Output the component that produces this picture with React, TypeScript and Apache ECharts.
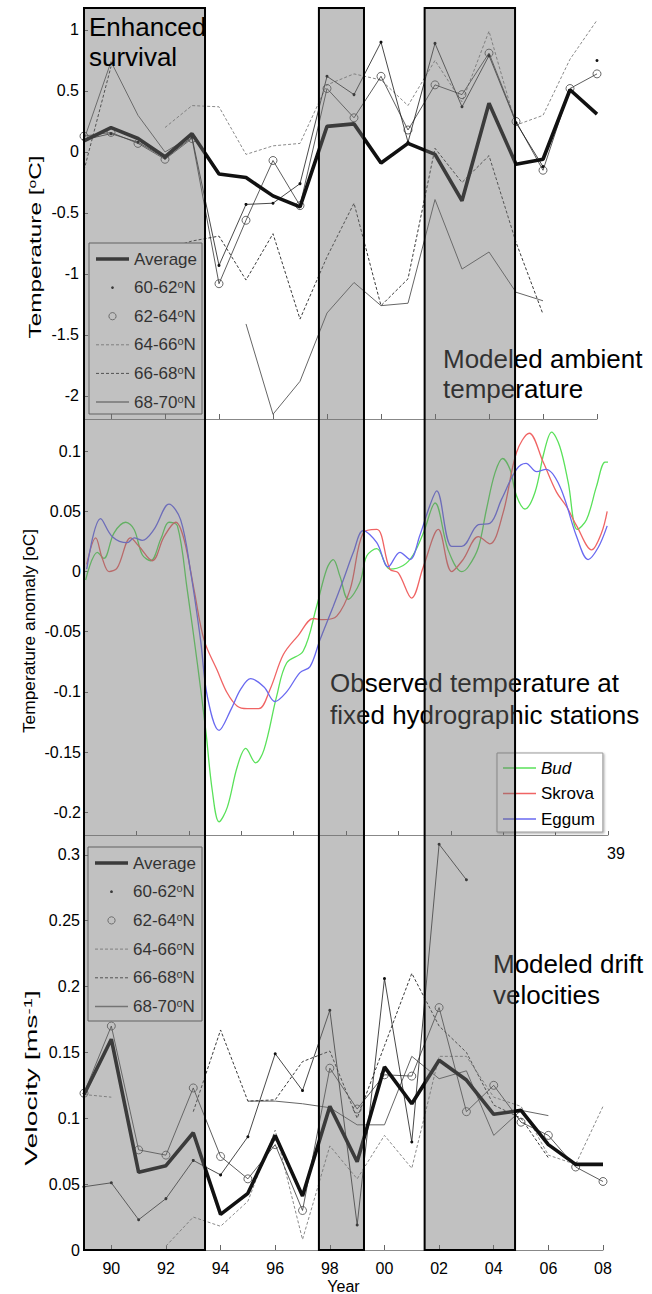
import React, { useEffect, useRef } from "react";
import * as echarts from "echarts";

const FONT = "'Liberation Sans', Arial, Helvetica, sans-serif";

// ---------------- data ----------------
const years = [1989, 1990, 1991, 1992, 1993, 1994, 1995, 1996, 1997, 1998, 1999, 2000, 2001, 2002, 2003, 2004, 2005, 2006, 2007, 2008];
const bandNames = ["Average", "60-62°N", "62-64°N", "64-66°N", "66-68°N", "68-70°N"];

// Modeled ambient temperature (°C)
const tempAverage = [0.09, 0.2, 0.11, -0.04, 0.15, -0.18, -0.21, -0.36, -0.45, 0.21, 0.23, -0.09, 0.07, -0.02, -0.4, 0.4, -0.1, -0.06, 0.51, 0.31];
const temp6062 = [0.1, 0.15, 0.08, -0.05, 0.12, -0.93, -0.43, -0.42, -0.26, 0.62, 0.47, 0.9, 0.08, 0.89, 0.37, 0.79, 0.24, -0.12, null, 0.75];
const temp6264 = [0.13, 0.16, 0.07, -0.06, 0.11, -1.08, -0.56, -0.07, -0.44, 0.52, 0.28, 0.62, 0.18, 0.55, 0.47, 0.81, 0.25, -0.15, 0.52, 0.64];
const temp6466 = [null, null, null, 0.2, 0.38, 0.37, -0.02, 0.05, 0.07, 0.55, 0.64, 0.59, 0.38, 0.75, 0.41, 0.99, 0.22, 0.3, 0.76, 1.08];
const temp6668 = [-0.15, 0.7, null, -0.8, -0.73, -0.69, -1.05, -0.67, -1.37, -0.86, -0.42, -1.26, -1.04, 0.03, -0.25, -0.03, -0.74, -1.33, null, null];
const temp6870 = [0.1, 0.74, 0.3, 0.0, 0.13, null, -1.41, -2.15, -1.88, -1.32, -1.07, -1.26, -1.24, -0.39, -0.96, -0.82, -1.15, -1.22, null, null];

// Modeled drift velocities (m/s)
const velAverage = [0.118, 0.16, 0.059, 0.064, 0.089, 0.027, 0.043, 0.087, 0.041, 0.109, 0.067, 0.139, 0.111, 0.144, 0.129, 0.103, 0.106, 0.08, 0.065, 0.065];
const vel6062 = [0.048, 0.051, 0.023, 0.039, 0.068, 0.057, 0.086, 0.149, 0.121, 0.182, 0.019, 0.206, 0.082, 0.308, 0.281, null, null, null, null, null];
const vel6264 = [0.119, 0.17, 0.076, 0.072, 0.123, 0.071, 0.054, 0.08, 0.03, 0.138, 0.107, 0.133, 0.132, 0.184, 0.105, 0.125, 0.097, 0.087, 0.063, 0.052];
const vel6466 = [0.118, 0.116, null, 0.003, 0.025, 0.018, 0.037, 0.091, 0.008, 0.079, 0.054, 0.087, 0.062, 0.147, 0.147, 0.116, 0.109, 0.072, 0.065, 0.109];
const vel6668 = [null, null, null, null, 0.105, 0.167, 0.113, 0.114, 0.143, 0.151, 0.1, 0.155, 0.21, 0.17, 0.15, 0.11, 0.1, 0.07, null, null];
const vel6870 = [null, null, null, null, null, null, 0.113, 0.113, 0.111, 0.108, 0.095, 0.095, 0.147, 0.13, 0.136, 0.087, 0.106, 0.102, null, null];

// Observed temperature anomaly at fixed stations [year, °C]
const bud = [[1989.06, -0.007], [1989.49, 0.016], [1989.73, 0.011], [1990.1, 0.032], [1990.53, 0.041], [1990.84, 0.035], [1991.14, 0.014], [1991.45, 0.009], [1991.82, 0.027], [1992.12, 0.041], [1992.43, 0.038], [1992.79, -0.015], [1993.16, -0.076], [1993.47, -0.132], [1993.71, -0.182], [1993.96, -0.208], [1994.26, -0.196], [1994.63, -0.162], [1994.94, -0.147], [1995.3, -0.159], [1995.61, -0.148], [1996.07, -0.104], [1996.44, -0.076], [1997.05, -0.066], [1997.54, -0.029], [1997.91, 0.002], [1998.15, 0.01], [1998.4, -0.004], [1998.7, -0.023], [1999.13, -0.009], [1999.38, 0.013], [1999.75, 0.019], [2000.23, 0.002], [2000.72, 0.005], [2001.09, 0.014], [2001.46, 0.032], [2001.89, 0.057], [2002.37, 0.018], [2002.87, 0.0], [2003.11, 0.004], [2003.48, 0.02], [2003.78, 0.052], [2004.09, 0.082], [2004.37, 0.094], [2004.64, 0.085], [2004.88, 0.063], [2005.19, 0.052], [2005.56, 0.066], [2005.89, 0.099], [2006.17, 0.116], [2006.47, 0.104], [2006.78, 0.074], [2007.11, 0.035], [2007.45, 0.043], [2007.82, 0.071], [2008.13, 0.091], [2008.24, 0.091]];
const skrova = [[1989.1, 0.006], [1989.43, 0.028], [1989.67, 0.011], [1989.92, 0.0], [1990.22, 0.003], [1990.71, 0.028], [1991.02, 0.021], [1991.51, 0.009], [1991.94, 0.029], [1992.37, 0.041], [1992.67, 0.027], [1993.04, -0.015], [1993.41, -0.057], [1993.89, -0.082], [1994.26, -0.101], [1994.63, -0.112], [1994.99, -0.114], [1995.42, -0.114], [1995.83, -0.098], [1996.32, -0.069], [1996.87, -0.053], [1997.42, -0.039], [1997.78, -0.04], [1998.28, -0.037], [1998.77, -0.015], [1999.25, 0.032], [1999.75, 0.035], [2000.23, 0.002], [2000.54, -0.001], [2001.03, -0.022], [2001.46, 0.004], [2002.01, 0.035], [2002.5, 0.0], [2002.92, 0.01], [2003.48, 0.029], [2003.9, 0.023], [2004.39, 0.049], [2004.88, 0.099], [2005.35, 0.115], [2005.86, 0.091], [2006.35, 0.066], [2006.72, 0.054], [2007.09, 0.038], [2007.64, 0.018], [2008.0, 0.032], [2008.21, 0.05]];
const eggum = [[1989.1, 0.002], [1989.61, 0.044], [1990.04, 0.029], [1990.59, 0.024], [1990.84, 0.028], [1991.14, 0.026], [1991.57, 0.035], [1992.12, 0.056], [1992.55, 0.043], [1992.92, -0.001], [1993.28, -0.057], [1993.53, -0.104], [1993.96, -0.132], [1994.39, -0.115], [1994.75, -0.098], [1995.12, -0.089], [1995.61, -0.096], [1996.01, -0.108], [1996.44, -0.1], [1996.93, -0.084], [1997.3, -0.079], [1997.66, -0.057], [1998.15, -0.029], [1998.52, -0.007], [1998.89, 0.016], [1999.25, 0.034], [1999.75, 0.024], [2000.17, 0.004], [2000.6, 0.016], [2000.97, 0.01], [2001.33, 0.03], [2001.7, 0.055], [2001.95, 0.067], [2002.5, 0.021], [2002.87, 0.021], [2003.48, 0.039], [2003.9, 0.04], [2004.33, 0.06], [2004.88, 0.085], [2005.23, 0.09], [2005.62, 0.083], [2005.96, 0.085], [2006.47, 0.071], [2007.09, 0.029], [2007.51, 0.01], [2007.88, 0.02], [2008.21, 0.038]];

// Enhanced-survival periods (shaded)
const shadeStart = [1989, 1997.6, 2001.47];
const shadeEnd = [1993.43, 1999.25, 2004.78];

const yearTickLabel = (v: number) => String(v % 100).padStart(2, "0");

// ---------------- styles ----------------
const bandStyle: any[] = [
  { line: { color: "#111", width: 3.6 }, symbol: "none", symbolSize: 0, item: { color: "#111" } },
  { line: { color: "#1a1a1a", width: 0.8 }, symbol: "circle", symbolSize: 3, item: { color: "#111" } },
  { line: { color: "#333", width: 0.8 }, symbol: "circle", symbolSize: 8, item: { color: "rgba(0,0,0,0)", borderColor: "#444", borderWidth: 0.8 } },
  { line: { color: "#8a8a8a", width: 1, type: [3, 2] }, symbol: "none", symbolSize: 0, item: { color: "#8a8a8a" } },
  { line: { color: "#3a3a3a", width: 1, type: [3, 2] }, symbol: "none", symbolSize: 0, item: { color: "#3a3a3a" } },
  { line: { color: "#666", width: 1 }, symbol: "none", symbolSize: 0, item: { color: "#666" } },
];

const bandSeries = (sets: (number | null)[][], xi: number, yi: number) =>
  sets.map((vals, k) => {
    const st = bandStyle[k];
    return {
      type: "line",
      name: bandNames[k],
      xAxisIndex: xi,
      yAxisIndex: yi,
      data: years.map((y, i) => [y, vals[i]]),
      symbol: st.symbol,
      symbolSize: st.symbolSize,
      showSymbol: st.symbol !== "none",
      lineStyle: st.line,
      itemStyle: st.item,
      connectNulls: false,
      silent: true,
      z: k === 0 ? 4 : 3,
    };
  });

const bandLegend = (left: number, top: number, width: number, height: number, step: number) => {
  const children: any[] = [
    { type: "rect", z: 5, shape: { x: 0, y: 0, width, height }, style: { fill: "#fff", stroke: "#555", lineWidth: 1 } },
  ];
  bandNames.forEach((name, k) => {
    const cy = 16 + step * k;
    const st = bandStyle[k];
    if (k === 1) {
      children.push({ type: "circle", z: 5, shape: { cx: 23.5, cy, r: 1.4 }, style: { fill: "#111" } });
    } else if (k === 2) {
      children.push({ type: "circle", z: 5, shape: { cx: 23.5, cy, r: 3.6 }, style: { fill: "none", stroke: "#444", lineWidth: 0.8 } });
    } else {
      children.push({
        type: "line",
        z: 5,
        shape: { x1: 7, y1: cy, x2: 40, y2: cy },
        style: {
          stroke: k === 5 ? "#777" : st.line.color,
          lineWidth: k === 0 ? 3.6 : k === 5 ? 1.6 : 1,
          lineDash: Array.isArray(st.line.type) ? st.line.type : null,
        },
      });
    }
    children.push({
      type: "text",
      z: 5,
      x: 45,
      y: cy,
      style: {
        text: name.replace("°", "{s|o}"),
        fontSize: 17,
        fontFamily: FONT,
        fill: "#000",
        verticalAlign: "middle",
        lineHeight: 18,
        rich: { s: { fontSize: 11, fontFamily: FONT, fill: "#000", verticalAlign: "top", lineHeight: 11 } },
      },
    });
  });
  return { type: "group", x: left, y: top, children };
};

const annotation = (text: string, x: number, y: number, z: number, lineHeight: number) => ({
  type: "text",
  x,
  y,
  z,
  style: { text, fontSize: 26, fontFamily: FONT, fill: "#000", lineHeight, verticalAlign: "top" },
});

const axisTitle = (text: string, x: number, y: number, stretch: number) => ({
  type: "text",
  x,
  y,
  z: 1,
  rotation: Math.PI / 2,
  scaleX: stretch,
  style: {
    text,
    fontSize: 17,
    fontFamily: FONT,
    fill: "#000",
    align: "center",
    verticalAlign: "middle",
    rich: { s: { fontSize: 11, fontFamily: FONT, fill: "#000", verticalAlign: "top", lineHeight: 11 } },
  },
});

const AXIS_LINE = { show: true, onZero: false, lineStyle: { color: "#888", width: 1 } };
const TICK_IN = (len: number) => ({ inside: true, length: len, lineStyle: { color: "#666" } });

export default function App() {
  const ref = useRef<HTMLDivElement>(null);
  useEffect(() => {
    if (!ref.current) return;
    const chart = echarts.init(ref.current, undefined, { renderer: "svg" });
    const gridBase = { containLabel: false, outerBoundsMode: "none", show: false };
    const option: any = {
      animation: false,
      backgroundColor: "#fff",
      grid: [
        { ...gridBase, left: 84, top: 8, width: 519, height: 1242 },
        { ...gridBase, left: 84, top: 8, width: 513, height: 411 },
        { ...gridBase, left: 84, top: 420, width: 524, height: 415 },
        { ...gridBase, left: 84, top: 835, width: 519, height: 415 },
      ],
      xAxis: [
        { gridIndex: 0, type: "value", min: 1989, max: 2008, show: false },
        {
          gridIndex: 1, type: "value", min: 1989, max: 2008, splitNumber: 10, position: "bottom",
          axisLine: AXIS_LINE, axisTick: TICK_IN(5), axisLabel: { show: false }, splitLine: { show: false },
        },
        {
          gridIndex: 2, type: "value", min: 0, max: 10, interval: 1, position: "bottom",
          axisLine: AXIS_LINE, axisTick: TICK_IN(4), axisLabel: { show: false }, splitLine: { show: false },
        },
        { gridIndex: 2, type: "value", min: 1989, max: 2008.24, show: false },
        {
          gridIndex: 3, type: "value", min: 1989, max: 2008, splitNumber: 10, position: "bottom",
          axisLine: AXIS_LINE, axisTick: TICK_IN(5), splitLine: { show: false },
          axisLabel: { formatter: yearTickLabel, fontSize: 16, fontFamily: FONT, color: "#000", margin: 10, showMinLabel: false },
          name: "Year", nameLocation: "middle", nameGap: 28,
          nameTextStyle: { fontSize: 16, fontFamily: FONT, color: "#000" },
        },
      ],
      yAxis: [
        { gridIndex: 0, type: "value", min: 0, max: 1, show: false },
        {
          gridIndex: 1, type: "value", min: -2.189, max: 1.18, splitNumber: 7,
          axisLine: AXIS_LINE, axisTick: TICK_IN(4), splitLine: { show: false },
          axisLabel: { fontSize: 16, fontFamily: FONT, color: "#000", margin: 5, showMinLabel: false, showMaxLabel: false },
        },
        {
          gridIndex: 2, type: "value", min: -0.219, max: 0.126, splitNumber: 7,
          axisLine: AXIS_LINE, axisTick: TICK_IN(4), splitLine: { show: false },
          axisLabel: { fontSize: 16, fontFamily: FONT, color: "#000", margin: 3, showMinLabel: false, showMaxLabel: false },
        },
        {
          gridIndex: 3, type: "value", min: 0, max: 0.315, splitNumber: 6,
          axisLine: AXIS_LINE, axisTick: TICK_IN(4), splitLine: { show: false },
          axisLabel: { fontSize: 16, fontFamily: FONT, color: "#000", margin: 4, showMaxLabel: false },
        },
      ],
      legend: [
        {
          data: [
            { name: "Bud", icon: "rect" },
            { name: "Skrova", icon: "rect" },
            { name: "Eggum", icon: "rect" },
          ],
          orient: "vertical",
          left: 497,
          top: 753,
          padding: [6, 8, 4, 6],
          itemWidth: 33,
          itemHeight: 1.4,
          itemGap: 7.5,
          backgroundColor: "#fff",
          borderColor: "#999",
          borderWidth: 1,
          shadowBlur: 2,
          shadowColor: "rgba(0,0,0,0.35)",
          shadowOffsetX: 1,
          shadowOffsetY: 1,
          z: 5,
          selectedMode: false,
          formatter: (n: string) => (n === "Bud" ? "{it|Bud}" : n),
          textStyle: {
            fontSize: 17, fontFamily: FONT, color: "#000", lineHeight: 18,
            rich: { it: { fontSize: 17, fontFamily: FONT, color: "#000", fontStyle: "italic", lineHeight: 18 } },
          },
        },
      ],
      series: [
        ...bandSeries([tempAverage, temp6062, temp6264, temp6466, temp6668, temp6870], 1, 1).reverse(),
        { type: "line", name: "Bud", xAxisIndex: 3, yAxisIndex: 2, data: bud, smooth: 0.35, symbol: "none", silent: true, z: 3, lineStyle: { color: "rgb(90,225,90)", width: 1.3 }, itemStyle: { color: "rgb(90,225,90)" } },
        { type: "line", name: "Skrova", xAxisIndex: 3, yAxisIndex: 2, data: skrova, smooth: 0.35, symbol: "none", silent: true, z: 3, lineStyle: { color: "rgb(240,100,100)", width: 1.3 }, itemStyle: { color: "rgb(240,100,100)" } },
        { type: "line", name: "Eggum", xAxisIndex: 3, yAxisIndex: 2, data: eggum, smooth: 0.35, symbol: "none", silent: true, z: 3, lineStyle: { color: "rgb(105,105,240)", width: 1.3 }, itemStyle: { color: "rgb(105,105,240)" } },
        ...bandSeries([velAverage, vel6062, vel6264, vel6466, vel6668, vel6870], 4, 3).reverse(),
        {
          type: "custom",
          name: "shade",
          xAxisIndex: 0,
          yAxisIndex: 0,
          z: 10,
          silent: true,
          clip: false,
          data: shadeStart.map((s, i) => [s, shadeEnd[i]]),
          encode: { x: [0, 1] },
          renderItem: (_p: any, api: any) => {
            const a = api.coord([api.value(0), 1]);
            const b = api.coord([api.value(1), 0]);
            return {
              type: "rect",
              shape: { x: a[0], y: a[1], width: b[0] - a[0], height: b[1] - a[1] },
              style: { fill: "rgba(114,114,114,0.44)", stroke: "#000", lineWidth: 2 },
            };
          },
        },
      ],
      graphic: [
        bandLegend(89, 243, 113, 171, 28.6),
        bandLegend(88, 847, 114, 174, 28.7),
        annotation("Enhanced\nsurvival", 89, 11.5, 20, 30),
        annotation("Modeled ambient\ntemperature", 443, 343.5, 1, 30),
        annotation("Observed temperature at\nfixed hydrographic stations", 330, 666.5, 1, 32),
        annotation("Modeled drift\nvelocities", 493, 948.5, 1, 31),
        axisTitle("Temperature [{s|o}C]", 35, 247, 1.43),
        axisTitle("Temperature anomaly [oC]", 29, 631, 1.02),
        axisTitle("Velocity [ms{s|-1}]", 31, 1078, 1.67),
        { type: "text", x: 607, y: 853, z: 1, style: { text: "39", fontSize: 16, fontFamily: FONT, fill: "#000", verticalAlign: "middle" } },
      ],
    };
    chart.setOption(option);
    return () => chart.dispose();
  }, []);
  return <div ref={ref} style={{ position: "absolute", left: 0, top: 0, width: 652, height: 1294 }} />;
}
